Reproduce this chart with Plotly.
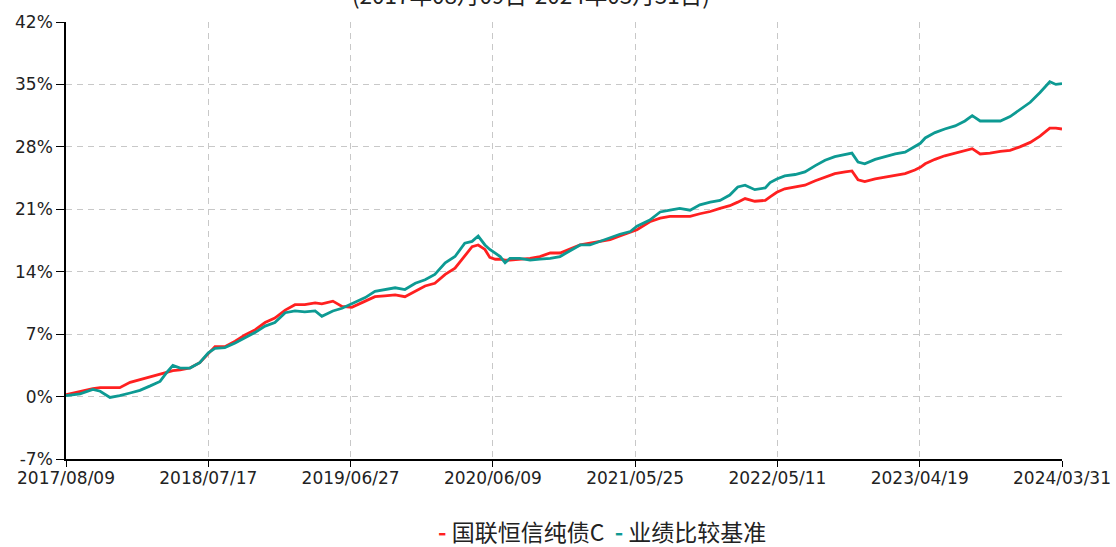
import plotly.graph_objects as go

# trading-day index of each sample (x axis is evenly spaced by trading day)
day_index = [0, 23, 44, 56, 72, 88, 105, 121, 138, 154, 165, 175, 187, 203, 219, 233,
             244, 260, 277, 293, 310, 326, 342, 359, 375, 391, 408, 419, 437, 452, 468,
             490, 506, 522, 539, 555, 572, 588, 604, 621, 637, 653, 665, 675, 686, 694,
             703, 711, 719, 727, 743, 760, 776, 793, 809, 825, 842, 858, 874, 891, 907,
             924, 935, 956, 973, 989, 1005, 1022, 1038, 1055, 1071, 1087, 1100, 1112,
             1128, 1145, 1153, 1164, 1177, 1194, 1210, 1227, 1243, 1259, 1276, 1287,
             1297, 1308, 1325, 1341, 1358, 1374, 1390, 1399, 1407, 1423, 1439, 1456,
             1472, 1484, 1497, 1513, 1530, 1546, 1562, 1579, 1595, 1611, 1621, 1631]

fund_return = [0.2, 0.6, 0.9, 1.0, 1.0, 1.0, 1.6, 1.9, 2.2, 2.5, 2.7, 2.9, 3.0, 3.2, 3.8, 4.8,
               5.6, 5.6, 6.2, 6.9, 7.5, 8.3, 8.8, 9.7, 10.3, 10.3, 10.5, 10.4, 10.7, 10.1, 10.0,
               10.7, 11.2, 11.3, 11.4, 11.2, 11.8, 12.4, 12.7, 13.7, 14.4, 15.7, 16.8, 17.0, 16.5, 15.6,
               15.4, 15.4, 15.3, 15.3, 15.4, 15.5, 15.7, 16.1, 16.1, 16.5, 17.0, 17.2, 17.4, 17.6, 18.0,
               18.4, 18.7, 19.6, 20.0, 20.2, 20.2, 20.2, 20.5, 20.75, 21.1, 21.4, 21.8, 22.2,
               21.9, 22.0, 22.4, 22.9, 23.3, 23.5, 23.7, 24.2, 24.6, 25.0, 25.2, 25.3,
               24.3, 24.1, 24.4, 24.6, 24.8, 25.0, 25.4, 25.7, 26.1, 26.6, 27.0, 27.3,
               27.6, 27.8, 27.2, 27.3, 27.5, 27.6, 28.0, 28.5, 29.2, 30.1, 30.1, 30.0]

bench_return = [0.1, 0.3, 0.8, 0.6, -0.1, 0.1, 0.4, 0.7, 1.2, 1.7, 2.7, 3.5, 3.2, 3.2, 3.8, 4.9,
                5.4, 5.5, 6.0, 6.6, 7.2, 7.9, 8.3, 9.4, 9.6, 9.5, 9.6, 9.0, 9.6, 9.9, 10.4,
                11.1, 11.8, 12.0, 12.2, 12.0, 12.7, 13.1, 13.7, 15.0, 15.7, 17.2, 17.4, 18.0, 17.0, 16.5,
                16.1, 15.7, 15.0, 15.5, 15.5, 15.3, 15.4, 15.5, 15.7, 16.3, 17.0, 17.0, 17.4, 17.8, 18.2,
                18.5, 19.1, 19.8, 20.7, 20.9, 21.1, 20.9, 21.5, 21.8, 22.0, 22.6, 23.5, 23.7,
                23.2, 23.4, 24.0, 24.4, 24.75, 24.9, 25.2, 25.9, 26.5, 26.9, 27.1, 27.3,
                26.3, 26.1, 26.6, 26.9, 27.2, 27.4, 28.0, 28.4, 29.0, 29.6, 30.0, 30.35,
                30.9, 31.5, 30.9, 30.9, 30.9, 31.4, 32.2, 33.0, 34.1, 35.3, 35.0, 35.1]

tick_index = [0, 233, 466, 699, 932, 1165, 1398, 1631]
tick_labels = ["2017/08/09", "2018/07/17", "2019/06/27", "2020/06/09",
               "2021/05/25", "2022/05/11", "2023/04/19", "2024/03/31"]
y_ticks = [-7, 0, 7, 14, 21, 28, 35, 42]

series_names = ["国联恒信纯债C", "业绩比较基准"]
subtitle = "(2017年08月09日-2024年03月31日)"

RED = "#ff2020"
TEAL = "#0d9a93"

fig = go.Figure()
fig.add_trace(go.Scatter(x=day_index, y=fund_return, mode="lines", name=series_names[0],
                         line=dict(color=RED, width=2.8)))
fig.add_trace(go.Scatter(x=day_index, y=bench_return, mode="lines", name=series_names[1],
                         line=dict(color=TEAL, width=2.8)))

tick_font = dict(family="DejaVu Sans", size=17, color="#222222")
grid = dict(showgrid=True, gridcolor="#c8c8c8", gridwidth=1, griddash="6px,5px")

fig.update_xaxes(range=[0, 1631], tickmode="array", tickvals=tick_index, ticktext=tick_labels,
                 showline=True, linecolor="#000000", linewidth=1.5, ticks="outside",
                 ticklen=6, tickcolor="#000000", tickfont=tick_font, zeroline=False,
                 ticklabelstandoff=-3, ticklabeloverflow="allow", automargin=False, **grid)
fig.update_yaxes(range=[-7, 42], tickmode="array", tickvals=y_ticks,
                 ticktext=[f"{v}%" for v in y_ticks],
                 showline=True, linecolor="#000000", linewidth=1.5, ticks="outside",
                 ticklen=8, tickcolor="#000000", tickfont=tick_font, zeroline=False,
                 ticklabeloverflow="allow", automargin=False, **grid)

legend_text = (f"<span style='color:{RED}'><b>-</b></span> {series_names[0]}  "
               f"<span style='color:{TEAL}'><b>-</b></span> {series_names[1]}")
fig.add_annotation(text=legend_text, xref="paper", yref="paper", x=0.538, y=-0.164,
                   xanchor="center", yanchor="middle", showarrow=False,
                   font=dict(family="Noto Sans CJK SC", size=23, color="#222222"))
fig.add_annotation(text=subtitle, xref="paper", yref="paper", x=0.467, y=1.063,
                   xanchor="center", yanchor="middle", showarrow=False,
                   font=dict(family="Noto Sans CJK SC", size=22.5, color="#222222"))

fig.update_layout(width=1116, height=547, margin=dict(l=66, r=54, t=22, b=88),
                  paper_bgcolor="#ffffff", plot_bgcolor="#ffffff", showlegend=False)

fig.write_html("out.html", config={"displayModeBar": False},
               post_script="document.body.style.margin='0';document.body.style.overflow='hidden';")
